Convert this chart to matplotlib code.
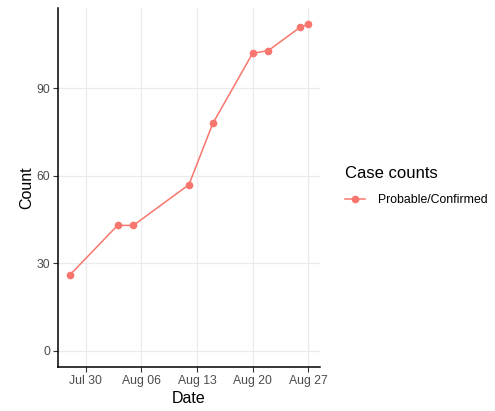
import matplotlib
matplotlib.use("Agg")
import matplotlib.pyplot as plt
import matplotlib.dates as mdates
import numpy as np
import pandas as pd

plt.rcParams['font.family'] = ['Liberation Sans', 'DejaVu Sans']

dates = pd.to_datetime(['2020-07-28', '2020-08-03', '2020-08-05', '2020-08-12', '2020-08-15',
                        '2020-08-20', '2020-08-22', '2020-08-26', '2020-08-27'])
counts = [26, 43, 43, 57, 78, 102, 103, 111, 112]
series_label = 'Probable/Confirmed'
tick_dates = pd.to_datetime(['2020-07-30', '2020-08-06', '2020-08-13', '2020-08-20', '2020-08-27'])
tick_labels = ['Jul 30', 'Aug 06', 'Aug 13', 'Aug 20', 'Aug 27']
y_ticks = [0, 30, 60, 90]

col = '#F8766D'

fig = plt.figure(figsize=(4.95, 4.11), dpi=100)
ax = fig.add_axes([58 / 495, 1 - 367 / 411, (320 - 58) / 495, (367 - 8) / 411])

ax.plot(dates, counts, color=col, lw=1.1, marker='o', ms=4.5, label=series_label)

# ggplot-like expansion
x0, x1 = mdates.date2num(dates.min()), mdates.date2num(dates.max())
pad = (x1 - x0) * 0.05
ax.set_xlim(x0 - pad, x1 + pad)
ymax = max(counts)
ax.set_ylim(-ymax * 0.05, ymax * 1.05)

ax.set_xticks(mdates.date2num(tick_dates))
ax.set_xticklabels(tick_labels)
ax.set_yticks(y_ticks)

ax.grid(True, color='#EBEBEB', lw=0.9)
ax.set_axisbelow(True)
for s in ['top', 'right']:
    ax.spines[s].set_visible(False)
for s in ['left', 'bottom']:
    ax.spines[s].set_linewidth(1.1)
    ax.spines[s].set_color('black')
ax.tick_params(length=3.5, width=0.8, color='#333333', labelsize=8.8, labelcolor='#4D4D4D', pad=2)

ax.set_xlabel('Date', fontsize=11.5, labelpad=3)
ax.set_ylabel('Count', fontsize=11.5, labelpad=2)

leg = fig.legend(loc='upper left', bbox_to_anchor=(334 / 495, 1 - 155 / 411), frameon=False,
                 title='Case counts', fontsize=8.8, title_fontsize=12, handlelength=1.64,
                 handletextpad=1.05, labelspacing=1.1)
leg._legend_box.align = 'left'

fig.savefig('out.png', dpi=100)
